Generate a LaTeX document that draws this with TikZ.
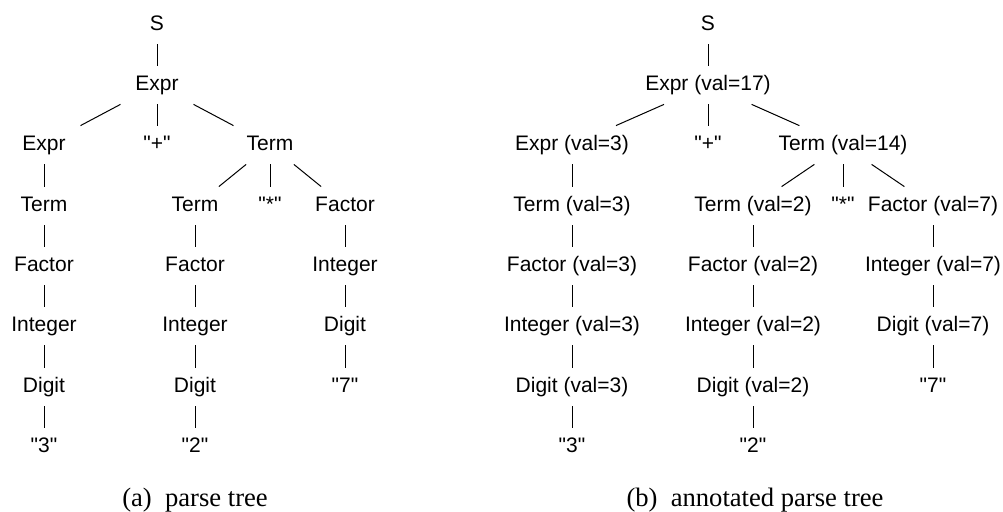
\documentclass[tikz,border=0pt]{standalone}
\usepackage{fontspec}
\newfontfamily\treefont{Liberation Sans}
\newfontfamily\captionfont{Liberation Serif}
\begin{document}
\begin{tikzpicture}[x=0.5pt,y=-0.5pt,
  sym/.style={anchor=base, inner xsep=10pt, inner ysep=0pt,
    text height=12.5pt, text depth=6.5pt,
    font=\treefont\fontsize{10.5}{12}\selectfont},
  branch/.style={line width=0.5pt},
  subcap/.style={anchor=base, inner sep=0pt,
    font=\captionfont\fontsize{13.3}{15}\selectfont}]
\useasboundingbox (0,0) rectangle (1003,512);

% ---- (a) plain parse tree ----
\node[sym] (ls)    at (157,31)  {S};
\node[sym] (le)    at (157,91)  {Expr};
\node[sym] (le2)   at (44,151)  {Expr};
\node[sym] (lplus) at (157,151) {"+"};
\node[sym] (lt)    at (270,151) {Term};
\node[sym] (lt2)   at (44,212)  {Term};
\node[sym] (lf2)   at (44,272)  {Factor};
\node[sym] (li2)   at (44,332)  {Integer};
\node[sym] (ld2)   at (44,393)  {Digit};
\node[sym] (l3)    at (44,453)  {"3"};
\node[sym] (lt3)   at (195,212) {Term};
\node[sym] (lstar) at (270,212) {"*"};
\node[sym] (lf4)   at (345,212) {Factor};
\node[sym] (lf3)   at (195,272) {Factor};
\node[sym] (li3)   at (195,332) {Integer};
\node[sym] (ld3)   at (195,393) {Digit};
\node[sym] (l2)    at (195,453) {"2"};
\node[sym] (li4)   at (345,272) {Integer};
\node[sym] (ld4)   at (345,332) {Digit};
\node[sym] (l7)    at (345,393) {"7"};

\draw[branch] (ls) -- (le);
\draw[branch] (le) -- (le2);
\draw[branch] (le) -- (lplus);
\draw[branch] (le) -- (lt);
\draw[branch] (le2) -- (lt2);
\draw[branch] (lt2) -- (lf2);
\draw[branch] (lf2) -- (li2);
\draw[branch] (li2) -- (ld2);
\draw[branch] (ld2) -- (l3);
\draw[branch] (lt) -- (lt3);
\draw[branch] (lt) -- (lstar);
\draw[branch] (lt) -- (lf4);
\draw[branch] (lt3) -- (lf3);
\draw[branch] (lf3) -- (li3);
\draw[branch] (li3) -- (ld3);
\draw[branch] (ld3) -- (l2);
\draw[branch] (lf4) -- (li4);
\draw[branch] (li4) -- (ld4);
\draw[branch] (ld4) -- (l7);

\node[subcap] (capa) at (195,507) {(a)\hspace{0.5em}parse tree};

% ---- (b) annotated parse tree ----
\node[sym] (rs)    at (708,31)  {S};
\node[sym] (re)    at (708,91)  {Expr (val=17)};
\node[sym] (re2)   at (572,151) {Expr (val=3)};
\node[sym] (rplus) at (708,151) {"+"};
\node[sym] (rt)    at (843,151) {Term (val=14)};
\node[sym] (rt2)   at (572,212) {Term (val=3)};
\node[sym] (rf2)   at (572,272) {Factor (val=3)};
\node[sym] (ri2)   at (572,332) {Integer (val=3)};
\node[sym] (rd2)   at (572,393) {Digit (val=3)};
\node[sym] (r3)    at (572,453) {"3"};
\node[sym] (rt3)   at (753,212) {Term (val=2)};
\node[sym] (rstar) at (843,212) {"*"};
\node[sym] (rf4)   at (933,212) {Factor (val=7)};
\node[sym] (rf3)   at (753,272) {Factor (val=2)};
\node[sym] (ri3)   at (753,332) {Integer (val=2)};
\node[sym] (rd3)   at (753,393) {Digit (val=2)};
\node[sym] (r2)    at (753,453) {"2"};
\node[sym] (ri4)   at (933,272) {Integer (val=7)};
\node[sym] (rd4)   at (933,332) {Digit (val=7)};
\node[sym] (r7)    at (933,393) {"7"};

\draw[branch] (rs) -- (re);
\draw[branch] (re) -- (re2);
\draw[branch] (re) -- (rplus);
\draw[branch] (re) -- (rt);
\draw[branch] (re2) -- (rt2);
\draw[branch] (rt2) -- (rf2);
\draw[branch] (rf2) -- (ri2);
\draw[branch] (ri2) -- (rd2);
\draw[branch] (rd2) -- (r3);
\draw[branch] (rt) -- (rt3);
\draw[branch] (rt) -- (rstar);
\draw[branch] (rt) -- (rf4);
\draw[branch] (rt3) -- (rf3);
\draw[branch] (rf3) -- (ri3);
\draw[branch] (ri3) -- (rd3);
\draw[branch] (rd3) -- (r2);
\draw[branch] (rf4) -- (ri4);
\draw[branch] (ri4) -- (rd4);
\draw[branch] (rd4) -- (r7);

\node[subcap] (capb) at (755,507) {(b)\hspace{0.5em}annotated parse tree};
\end{tikzpicture}
\end{document}
